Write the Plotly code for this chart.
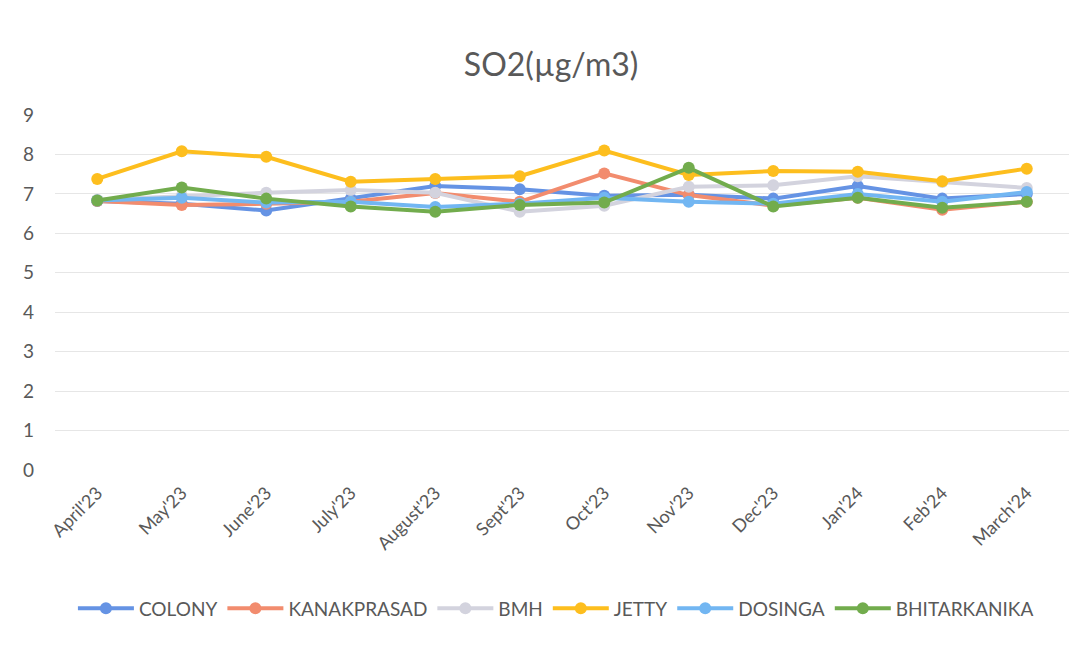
import plotly.graph_objects as go

months = ["April'23", "May'23", "June'23", "July'23", "August'23", "Sept'23",
          "Oct'23", "Nov'23", "Dec'23", "Jan'24", "Feb'24", "March'24"]

colony       = [6.82, 6.75, 6.58, 6.88, 7.20, 7.12, 6.95, 6.98, 6.88, 7.20, 6.88, 7.00]
kanakprasad  = [6.82, 6.72, 6.75, 6.80, 7.02, 6.80, 7.52, 6.97, 6.70, 6.90, 6.60, 6.80]
bmh          = [6.85, 6.95, 7.03, 7.10, 7.03, 6.55, 6.70, 7.18, 7.22, 7.45, 7.30, 7.15]
jetty        = [7.38, 8.08, 7.94, 7.31, 7.38, 7.45, 8.10, 7.48, 7.58, 7.56, 7.32, 7.64]
dosinga      = [6.83, 6.90, 6.78, 6.80, 6.67, 6.75, 6.90, 6.80, 6.75, 7.00, 6.80, 7.05]
bhitarkanika = [6.83, 7.16, 6.88, 6.68, 6.55, 6.72, 6.78, 7.66, 6.68, 6.90, 6.65, 6.80]

series = [
    ("COLONY", colony, "#6593E4"),
    ("KANAKPRASAD", kanakprasad, "#F28C6E"),
    ("BMH", bmh, "#D3D3DE"),
    ("JETTY", jetty, "#FDBE1E"),
    ("DOSINGA", dosinga, "#72B6F2"),
    ("BHITARKANIKA", bhitarkanika, "#72AC4D"),
]

fig = go.Figure()
for name, vals, col in series:
    fig.add_trace(go.Scatter(
        x=months, y=vals, name=name, mode="lines+markers",
        line=dict(color=col, width=4),
        marker=dict(color=col, size=12),
    ))

fig.update_layout(
    width=1084, height=653,
    paper_bgcolor="white", plot_bgcolor="white",
    font=dict(family="Lato, 'Open Sans', sans-serif", color="#595959", size=18),
    title=dict(text="SO2(µg/m3)", x=0.501, xanchor="center", y=0.913, yanchor="middle",
               font=dict(size=32, color="#595959")),
    margin=dict(l=47, r=23, t=107, b=191),
    showlegend=True,
    legend=dict(orientation="h", x=0.494, xanchor="center", y=-0.39, yanchor="middle",
                font=dict(size=19, color="#595959"), itemwidth=56),
    xaxis=dict(type="category", range=[-0.5, 11.5], tickangle=-45,
               showgrid=False, showline=False, ticks="", automargin=False,
               ticklabelstandoff=8,
               tickfont=dict(size=18, color="#595959")),
    yaxis=dict(range=[0, 9], dtick=1, showgrid=True, gridcolor="#E6E6E6",
               gridwidth=1, zeroline=False, showline=False, ticks="",
               automargin=False, ticklabelstandoff=20,
               tickfont=dict(size=19, color="#595959")),
)

fig.write_html("out.html")
